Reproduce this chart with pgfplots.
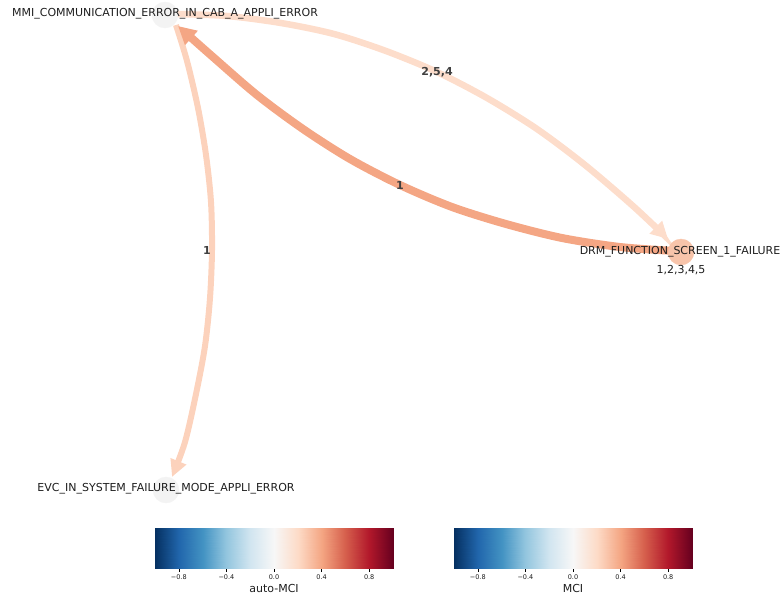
\documentclass[border=0pt]{standalone}
\usepackage{fontspec}
\setmainfont{DejaVu Sans}
\usepackage{pgfplots}
\pgfplotsset{compat=1.18}
\usetikzlibrary{arrows.meta}
\definecolor{edgeA}{RGB}{253,221,203}
\definecolor{edgeB}{RGB}{244,166,132}
\definecolor{edgeC}{RGB}{252,210,188}
\definecolor{nodeG}{RGB}{243,243,243}
\definecolor{nodeD}{RGB}{248,196,170}
\definecolor{txt}{RGB}{30,30,30}
\pgfplotsset{colormap={rdbu}{rgb255=(5,48,97) rgb255=(33,102,172) rgb255=(67,147,195) rgb255=(146,197,222) rgb255=(209,229,240) rgb255=(247,247,247) rgb255=(253,219,199) rgb255=(244,165,130) rgb255=(214,96,77) rgb255=(178,24,43) rgb255=(103,0,31)}}
\pgfplotsset{cbar/.style={anchor=south west, scale only axis, width=238pt, height=40pt,
  xmin=-1, xmax=1, ymin=0, ymax=1, enlargelimits=false, ytick=\empty,
  xtick={-0.8,-0.4,0,0.4,0.8}, xticklabels={−0.8,−0.4,0.0,0.4,0.8},
  xtick pos=bottom, tick align=outside, major tick length=3.5pt,
  tick style={black, line width=0.6pt},
  tick label style={font=\fontsize{6.5}{7}\selectfont, text=txt},
  xlabel style={at={(axis description cs:0.5,0)}, anchor=center, yshift=-20.5pt, font=\fontsize{11}{13}\selectfont, text=txt},
  axis line style={gray!50, line width=0.5pt},
  colormap name=rdbu, point meta min=-1, point meta max=1}}
\begin{document}
\begin{tikzpicture}
\useasboundingbox (0,0) rectangle (781pt,597pt);
\begin{axis}[at={(0pt,0pt)}, anchor=south west, scale only axis, width=781pt, height=597pt,
  xmin=0, xmax=781, ymin=0, ymax=597, y dir=reverse, hide axis, clip=false]
% nodes
\addplot[nodeG, only marks, mark=*, mark size=13pt, mark options={draw=nodeG, fill=nodeG}] coordinates {(165,15) (166,490)};
\addplot[nodeD, only marks, mark=*, mark size=13pt, mark options={draw=nodeD, fill=nodeD}] coordinates {(681,252)};
% MMI -> DRM (2,5,4)
\addplot[edgeA, line width=6.5pt, smooth, -{Triangle[length=17pt,width=17pt]}] coordinates {
(175,14) (227,16) (281,23) (334,34) (386,51) (437,72) (487,98) (537,129) (585,165) (633,206) (668,239)};
% MMI -> EVC (1)
\addplot[edgeC, line width=6pt, smooth, -{Triangle[length=17pt,width=16pt]}] coordinates {
(176,25) (187,61) (198,108) (206,155) (211,202) (212,250) (210,298) (205,346) (196,394) (185,442) (172,477)};
% DRM -> MMI (1)
\addplot[edgeB, line width=8pt, smooth, -{Triangle[length=18pt,width=18pt]}] coordinates {
(675,251) (620,247) (562,238) (506,224) (452,207) (400,185) (350,159) (303,129) (257,95) (213,57) (178,26)};
\end{axis}
\begin{axis}[at={(0pt,0pt)}, anchor=south west, scale only axis, width=781pt, height=597pt,
  xmin=0, xmax=781, ymin=0, ymax=597, y dir=reverse, hide axis, clip=false]
% node labels
\node[text=txt, font=\fontsize{11}{13}\selectfont] at (axis cs:165,14) {MMI\_COMMUNICATION\_ERROR\_IN\_CAB\_A\_APPLI\_ERROR};
\node[text=txt, font=\fontsize{11}{13}\selectfont] at (axis cs:680,252) {DRM\_FUNCTION\_SCREEN\_1\_FAILURE};
\node[text=txt, font=\fontsize{11}{13}\selectfont] at (axis cs:681,270) {1,2,3,4,5};
\node[text=txt, font=\fontsize{11}{13}\selectfont] at (axis cs:166,489) {EVC\_IN\_SYSTEM\_FAILURE\_MODE\_APPLI\_ERROR};
% edge labels
\node[text=black!75, font=\bfseries\fontsize{11}{13}\selectfont] at (axis cs:437,72) {2,5,4};
\node[text=black!75, font=\bfseries\fontsize{11}{13}\selectfont] at (axis cs:400,185) {1};
\node[text=black!75, font=\bfseries\fontsize{11}{13}\selectfont] at (axis cs:207,250) {1};
\end{axis}
\begin{axis}[cbar, at={(155pt,29pt)}, xlabel={auto-MCI}]
\addplot[surf, shader=interp, mesh/cols=11, point meta=x] coordinates {
(-1,0) (-0.8,0) (-0.6,0) (-0.4,0) (-0.2,0) (0,0) (0.2,0) (0.4,0) (0.6,0) (0.8,0) (1,0)

(-1,1) (-0.8,1) (-0.6,1) (-0.4,1) (-0.2,1) (0,1) (0.2,1) (0.4,1) (0.6,1) (0.8,1) (1,1)
};
\end{axis}
\begin{axis}[cbar, at={(454pt,29pt)}, xlabel={MCI}]
\addplot[surf, shader=interp, mesh/cols=11, point meta=x] coordinates {
(-1,0) (-0.8,0) (-0.6,0) (-0.4,0) (-0.2,0) (0,0) (0.2,0) (0.4,0) (0.6,0) (0.8,0) (1,0)

(-1,1) (-0.8,1) (-0.6,1) (-0.4,1) (-0.2,1) (0,1) (0.2,1) (0.4,1) (0.6,1) (0.8,1) (1,1)
};
\end{axis}
\end{tikzpicture}
\end{document}
